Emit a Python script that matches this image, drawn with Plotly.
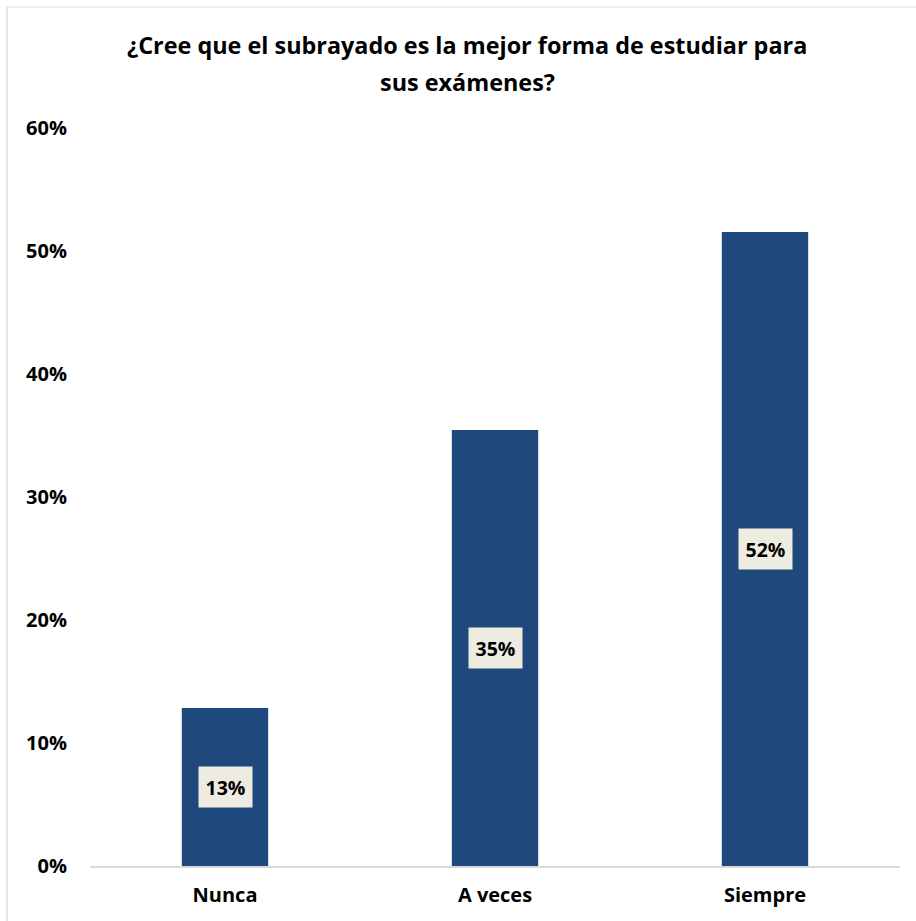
import plotly.graph_objects as go

categories = ["Nunca", "A veces", "Siempre"]
values = [0.1285, 0.3545, 0.5155]
labels = ["13%", "35%", "52%"]
title_lines = ["¿Cree que el subrayado es la mejor forma de estudiar para", "sus exámenes?"]

W, H = 916, 921
ml, mr, mt, mb = 90, 16, 128, 55
pw, ph = W - ml - mr, H - mt - mb
FONT = "Open Sans, sans-serif"


def py(pix):
    """pixel row -> paper y"""
    return (H - mb - pix) / ph


def px(pix):
    return (pix - ml) / pw


fig = go.Figure()
fig.add_trace(go.Bar(
    x=categories, y=values,
    marker=dict(color="#1F497D", line=dict(width=0)),
    hoverinfo="skip",
))

for c, v, t in zip(categories, values, labels):
    fig.add_annotation(
        x=c, y=v / 2, xref="x", yref="y", text=t, showarrow=False,
        font=dict(family=FONT, size=19.5, color="#000000", weight="bold"),
        bgcolor="#EEECE1", borderpad=6.5,
    )

# title (two lines, Excel-like spacing)
for line, ypix in zip(title_lines, [45, 82]):
    fig.add_annotation(
        x=px(467), y=py(ypix), xref="paper", yref="paper", text=line, showarrow=False,
        xanchor="center", yanchor="middle",
        font=dict(family=FONT, size=23.4, color="#000000", weight="bold"),
    )

# chart frame
fig.add_shape(type="rect", xref="paper", yref="paper",
              x0=px(7), x1=px(W + 20), y0=py(H + 20), y1=py(7),
              line=dict(color="#D9D9D9", width=1.2), fillcolor="rgba(0,0,0,0)", layer="below")

fig.update_layout(
    width=W, height=H,
    margin=dict(l=ml, r=mr, t=mt, b=mb),
    paper_bgcolor="white", plot_bgcolor="white",
    bargap=0.68,
    showlegend=False,
    font=dict(family=FONT, color="#000000"),
    xaxis=dict(showline=True, linecolor="#D9D9D9", linewidth=2, ticks="", ticklabelstandoff=10,
               tickfont=dict(family=FONT, size=20, weight="bold", color="#000000"),
               showgrid=False, fixedrange=True),
    yaxis=dict(range=[0, 0.6], dtick=0.1, tickformat=".0%", showgrid=False, zeroline=False,
               showline=False, ticks="", ticklabelstandoff=22,
               tickfont=dict(family=FONT, size=20, weight="bold", color="#000000"),
               fixedrange=True),
)

fig.write_html("out.html", config={"displayModeBar": False},
               post_script="document.body.style.margin='0';document.body.style.overflow='hidden';")
